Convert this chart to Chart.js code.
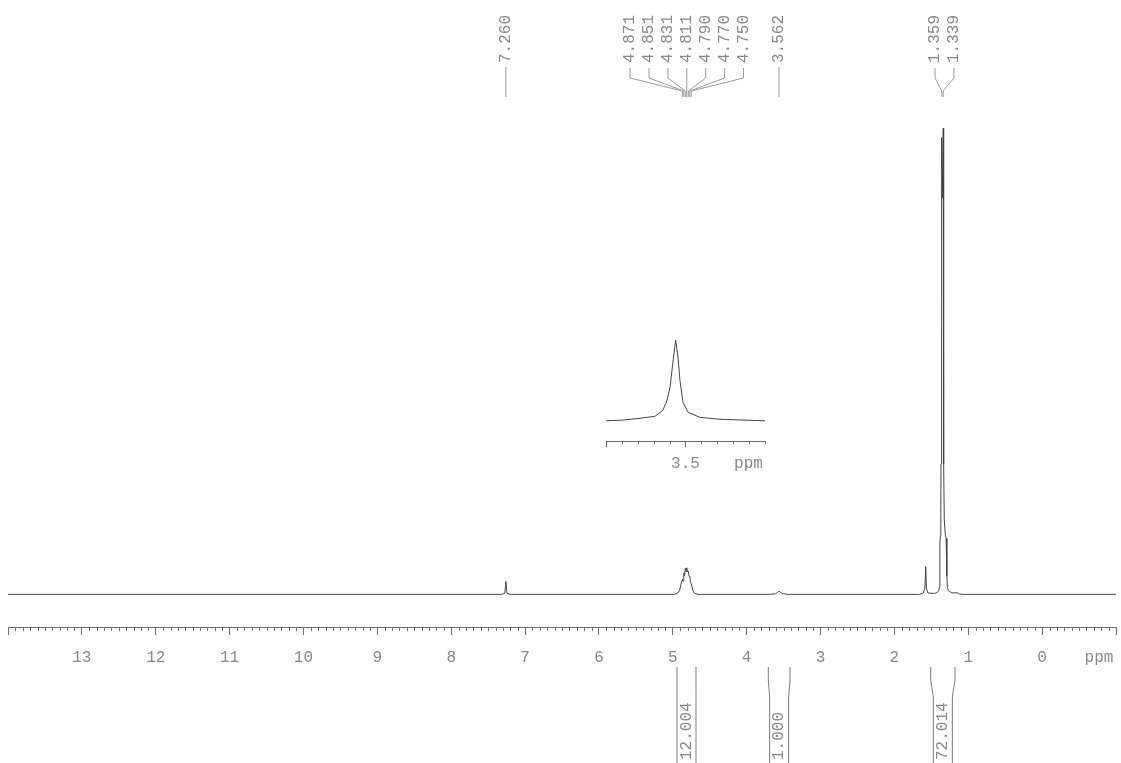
<!DOCTYPE html>
<html>
<head>
<meta charset="utf-8">
<script src="https://cdn.jsdelivr.net/npm/chart.js@4.4.1/dist/chart.umd.min.js"></script>
<style>
  html, body { margin: 0; padding: 0; background: #fff; overflow: hidden; }
  #wrap { position: relative; width: 1121px; height: 763px; }
  #wrap canvas { position: absolute; left: 0; top: 0; }
</style>
</head>
<body>
<div id="wrap">
  <canvas id="spec" width="1121" height="763"></canvas>
  <canvas id="inset" width="1121" height="763"></canvas>
</div>
<script>
// 1H spectrum trace: chemical shift (ppm) and relative intensity
const specPpm = [
  14.00, 7.32, 7.275, 7.260, 7.245, 7.20,
  4.98, 4.93, 4.905, 4.89, 4.871, 4.861, 4.851, 4.841, 4.831, 4.821, 4.811, 4.801,
  4.790, 4.780, 4.770, 4.760, 4.750, 4.73, 4.71, 4.66,
  3.68, 3.61, 3.585, 3.562, 3.54, 3.51, 3.44,
  1.66, 1.61, 1.588, 1.576, 1.566, 1.545, 1.46, 1.42, 1.40, 1.392, 1.386, 1.383,
  1.378, 1.372, 1.369, 1.362, 1.359, 1.350, 1.339, 1.333, 1.325, 1.312, 1.300,
  1.292, 1.288, 1.282, 1.27, 1.22, 1.15, 1.12, 1.08, -1.00
];
const specInt = [
  0, 0, 0.2, 2.8, 0.2, 0,
  0, 0.3, 1.0, 2.2, 3.2, 2.8, 4.6, 4.0, 5.6, 4.9, 5.7, 4.8,
  5.0, 3.9, 3.8, 2.4, 2.3, 0.9, 0.25, 0,
  0, 0.15, 0.4, 0.65, 0.4, 0.15, 0,
  0, 0.3, 1.2, 6.0, 1.2, 0.3, 0.2, 0.4, 0.8, 1.5, 5, 11,
  12.5, 15, 28, 60, 98, 85, 100, 28, 16, 13, 12,
  11, 4, 1.5, 0.8, 0.3, 0.35, 0.1, 0, 0
];

// expansion of the 3.562 ppm signal
const insetPpm = [4.000, 3.900, 3.786, 3.692, 3.642, 3.616, 3.597, 3.585, 3.572, 3.562,
                  3.547, 3.535, 3.516, 3.484, 3.409, 3.283, 3.000];
const insetInt = [0, 0.8, 3.1, 5.6, 13.0, 25.5, 41.6, 62.7, 83.9, 100,
                  78.9, 50.3, 23.0, 10.6, 4.3, 1.9, 0];

// picked peaks, grouped as they are labelled
const peakGroup1 = [7.260];
const peakGroup2 = [4.871, 4.851, 4.831, 4.811, 4.790, 4.770, 4.750];
const peakGroup3 = [3.562];
const peakGroup4 = [1.359, 1.339];

// integral regions (ppm) and integral values
const integralFrom = [4.943, 3.707, 1.508];
const integralTo = [4.686, 3.413, 1.180];
const integralValues = [12.004, 1.000, 72.014];

// axis labels
const axisTickValues = [13, 12, 11, 10, 9, 8, 7, 6, 5, 4, 3, 2, 1, 0];
const insetTickValues = [3.5];
const axisUnit = 'ppm';

const FONT = '"Liberation Mono", "DejaVu Sans Mono", monospace';
const TEXT = '#888888';
const LINE = '#444444';
const AXIS = '#6e6e6e';

const toPoints = (xs, ys) => xs.map((x, i) => ({ x, y: ys[i] }));

// short unlabelled ticks along an x scale
function drawMinorTicks(chart, from, to, step, len, skip) {
  const { ctx, chartArea, scales: { x } } = chart;
  ctx.save();
  ctx.strokeStyle = AXIS;
  ctx.lineWidth = 1;
  ctx.beginPath();
  const n = Math.round((to - from) / step);
  for (let k = 0; k <= n; k++) {
    const v = from + k * step;
    if (skip(v)) continue;
    const px = Math.round(x.getPixelForValue(v)) + 0.5;
    ctx.moveTo(px, chartArea.bottom);
    ctx.lineTo(px, chartArea.bottom + len);
  }
  ctx.stroke();
  ctx.restore();
}

// text running bottom-to-top, starting at (x, y)
function vText(ctx, str, x, y) {
  ctx.save();
  ctx.translate(x, y);
  ctx.rotate(-Math.PI / 2);
  ctx.textAlign = 'left';
  ctx.textBaseline = 'middle';
  ctx.fillText(str, 0, 0);
  ctx.restore();
}

const spectrumDecor = {
  id: 'spectrumDecor',
  afterDraw(chart) {
    const { ctx, scales: { x } } = chart;
    drawMinorTicks(chart, -1, 14, 0.1, 4, v => Math.abs(v - Math.round(v)) < 1e-6);

    ctx.save();
    ctx.font = '16px ' + FONT;
    ctx.fillStyle = TEXT;
    ctx.strokeStyle = '#9a9a9a';
    ctx.lineWidth = 1;

    // peak labels with leader lines
    [peakGroup1, peakGroup2, peakGroup3, peakGroup4].forEach(g => {
      const px = g.map(v => x.getPixelForValue(v));
      const c = px.reduce((a, b) => a + b, 0) / px.length;
      const n = g.length;
      g.forEach((v, i) => {
        const lx = n === 1 ? px[i] : c + (i - (n - 1) / 2) * 18.9 + (n === 2 ? 2 : 0);
        vText(ctx, v.toFixed(3), lx, 63);
        ctx.beginPath();
        if (n === 1) {
          ctx.moveTo(lx, 67); ctx.lineTo(lx, 97);
        } else {
          ctx.moveTo(lx, 68); ctx.lineTo(lx, 78);
          ctx.lineTo(px[i], 91); ctx.lineTo(px[i], 97);
        }
        ctx.stroke();
      });
    });

    // integral brackets and values
    ctx.strokeStyle = '#7a7a7a';
    integralFrom.forEach((f, i) => {
      const xa = x.getPixelForValue(f);
      const xb = x.getPixelForValue(integralTo[i]);
      const xc = (xa + xb) / 2;
      ctx.beginPath();
      ctx.moveTo(xa, 667); ctx.lineTo(xa, 680); ctx.lineTo(xc - 9.5, 697); ctx.lineTo(xc - 9.5, 763);
      ctx.moveTo(xb, 667); ctx.lineTo(xb, 680); ctx.lineTo(xc + 9.5, 697); ctx.lineTo(xc + 9.5, 763);
      ctx.stroke();
      vText(ctx, integralValues[i].toFixed(3), xc, 760);
    });
    ctx.restore();
  }
};

const UNIT_POS = -0.77;
const mainTicks = [-1, UNIT_POS].concat(Array.from({ length: 15 }, (_, i) => i));

new Chart(document.getElementById('spec'), {
  type: 'line',
  data: {
    datasets: [{
      data: toPoints(specPpm, specInt),
      borderColor: LINE,
      borderWidth: 1,
      pointRadius: 0,
      tension: 0,
      fill: false
    }]
  },
  options: {
    responsive: false,
    animation: false,
    events: [],
    layout: { padding: { left: 8, right: 5, top: 105, bottom: 0 } },
    plugins: { legend: { display: false }, tooltip: { enabled: false } },
    scales: {
      x: {
        type: 'linear',
        reverse: true,
        min: -1,
        max: 14,
        afterBuildTicks: s => { s.ticks = mainTicks.map(v => ({ value: v })); },
        afterFit: s => { s.height = 136; },
        ticks: {
          autoSkip: false,
          maxRotation: 0,
          padding: 13,
          color: TEXT,
          font: { family: FONT, size: 16 },
          callback: v => v === UNIT_POS ? axisUnit : (axisTickValues.includes(v) ? String(v) : '')
        },
        grid: {
          drawOnChartArea: false,
          drawTicks: true,
          tickLength: 8,
          tickColor: c => (c.tick && c.tick.value === UNIT_POS) ? 'rgba(0,0,0,0)' : AXIS
        },
        border: { display: true, color: AXIS, width: 1 }
      },
      y: { display: false, min: -7, max: 105 }
    }
  },
  plugins: [spectrumDecor]
});

const INSET_UNIT_POS = 3.104;
const insetTicks = [INSET_UNIT_POS, 3.5, 4.0];

new Chart(document.getElementById('inset'), {
  type: 'line',
  data: {
    datasets: [{
      data: toPoints(insetPpm, insetInt),
      borderColor: LINE,
      borderWidth: 1,
      pointRadius: 0,
      tension: 0,
      fill: false
    }]
  },
  options: {
    responsive: false,
    animation: false,
    events: [],
    layout: { padding: { left: 606, right: 356, top: 336, bottom: 282 } },
    plugins: { legend: { display: false }, tooltip: { enabled: false } },
    scales: {
      x: {
        type: 'linear',
        reverse: true,
        min: 3.0,
        max: 4.0,
        afterBuildTicks: s => { s.ticks = insetTicks.map(v => ({ value: v })); },
        afterFit: s => { s.height = 40; },
        ticks: {
          autoSkip: false,
          maxRotation: 0,
          padding: 7,
          color: TEXT,
          font: { family: FONT, size: 16 },
          callback: v => v === INSET_UNIT_POS ? axisUnit : (insetTickValues.includes(v) ? v.toFixed(1) : '')
        },
        grid: {
          drawOnChartArea: false,
          drawTicks: true,
          tickLength: 6,
          tickColor: c => (c.tick && c.tick.value === INSET_UNIT_POS) ? 'rgba(0,0,0,0)' : AXIS
        },
        border: { display: true, color: AXIS, width: 1 }
      },
      y: { display: false, min: -25, max: 105 }
    }
  },
  plugins: [{
    id: 'insetMinor',
    afterDraw(chart) {
      drawMinorTicks(chart, 3.0, 4.0, 0.1, 3, v => Math.abs(v - 3.5) < 1e-6 || Math.abs(v - 4.0) < 1e-6);
    }
  }]
});
</script>
</body>
</html>
